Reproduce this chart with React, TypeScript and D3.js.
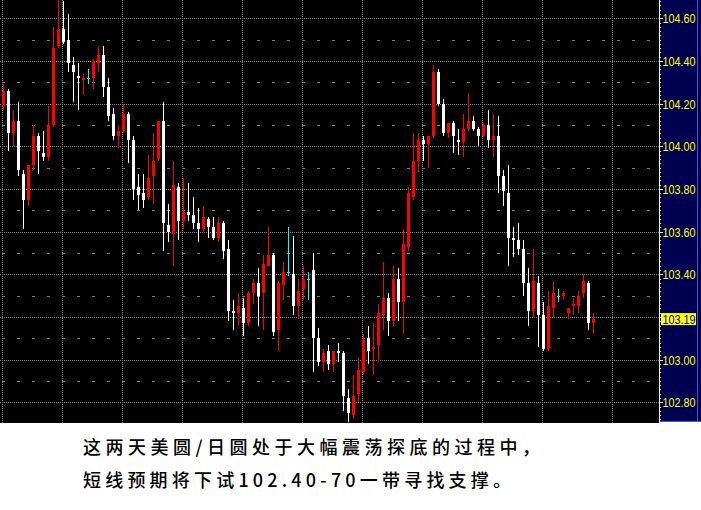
import React from "react";
import * as d3 from "d3";

const opens = [104.19,104.26,104.06,104.12,103.87,103.75,103.91,104.05,103.97,103.95,104.10,104.47,104.55,104.50,104.38,104.33,104.31,104.32,104.32,104.39,104.43,104.28,104.15,104.05,104.07,104.15,104.03,103.81,103.78,103.76,103.86,103.94,104.12,103.63,103.59,103.81,103.65,103.69,103.68,103.64,103.61,103.66,103.62,103.57,103.64,103.52,103.23,103.22,103.24,103.17,103.31,103.36,103.31,103.44,103.49,103.14,103.35,103.41,103.40,103.25,103.33,103.38,103.42,103.10,102.99,103.04,102.98,103.04,103.03,102.82,102.74,102.84,102.94,103.10,103.05,103.07,103.21,103.29,103.18,103.38,103.27,103.53,103.76,103.93,104.03,104.01,104.05,104.35,104.20,104.06,104.11,104.03,104.02,104.08,104.12,104.08,104.05,104.10,104.03,104.05,103.86,103.78,103.57,103.56,103.52,103.36,103.23,103.36,103.21,103.05,103.24,103.30,103.30,103.22,103.25,103.25,103.31,103.36,103.17];
const highs = [104.29,104.27,104.17,104.21,103.89,103.91,104.10,104.06,104.07,104.19,104.56,104.70,104.68,104.62,104.42,104.39,104.34,104.36,104.41,104.47,104.47,104.32,104.18,104.10,104.20,104.16,104.05,103.87,103.87,103.96,104.06,104.12,104.21,103.73,103.93,103.83,103.85,103.83,103.76,103.71,103.72,103.67,103.67,103.67,103.65,103.56,103.28,103.31,103.29,103.32,103.38,103.43,103.49,103.62,103.50,103.37,103.46,103.62,103.58,103.38,103.44,103.41,103.50,103.15,103.05,103.07,103.04,103.08,103.04,102.86,102.93,103.01,103.12,103.16,103.17,103.26,103.46,103.31,103.44,103.43,103.61,103.81,104.06,104.06,104.05,104.05,104.38,104.36,104.22,104.11,104.12,104.08,104.15,104.25,104.14,104.09,104.11,104.17,104.15,104.14,103.89,103.91,103.62,103.64,103.56,103.43,103.52,103.39,103.27,103.32,103.37,103.33,103.32,103.24,103.29,103.32,103.40,103.37,103.22];
const lows = [104.17,103.98,104.00,103.86,103.61,103.72,103.89,103.87,103.93,103.93,104.09,104.46,104.48,104.35,104.21,104.17,104.24,104.29,104.27,104.35,104.23,104.12,104.03,103.99,104.06,103.92,103.75,103.70,103.71,103.75,103.73,103.93,103.51,103.55,103.44,103.56,103.61,103.65,103.61,103.55,103.60,103.57,103.56,103.55,103.47,103.18,103.14,103.16,103.11,103.16,103.26,103.16,103.14,103.44,103.11,103.04,103.28,103.39,103.21,103.19,103.28,103.28,102.94,102.97,102.94,102.95,102.94,102.99,102.76,102.71,102.72,102.80,102.93,102.98,102.93,102.99,103.14,103.11,103.16,103.18,103.12,103.51,103.75,103.88,103.93,103.90,104.04,104.19,104.05,104.04,103.97,103.96,103.95,104.07,104.07,104.00,104.04,103.99,103.95,103.78,103.72,103.44,103.48,103.49,103.30,103.16,103.20,103.06,103.04,103.04,103.20,103.27,103.28,103.19,103.21,103.22,103.29,103.14,103.12];
const closes = [104.26,104.06,104.12,103.89,103.75,103.91,104.05,103.98,103.95,104.10,104.46,104.55,104.49,104.39,104.35,104.32,104.32,104.32,104.40,104.43,104.28,104.14,104.05,104.07,104.15,104.03,103.80,103.77,103.75,103.85,103.93,104.12,103.64,103.60,103.82,103.65,103.69,103.68,103.64,103.61,103.67,103.62,103.57,103.64,103.51,103.23,103.22,103.25,103.17,103.31,103.36,103.30,103.45,103.49,103.13,103.36,103.41,103.41,103.25,103.32,103.38,103.38,103.10,102.99,103.03,102.98,103.04,103.03,102.83,102.75,102.83,102.95,103.09,103.04,103.06,103.22,103.29,103.18,103.38,103.27,103.54,103.78,103.93,104.03,104.01,104.05,104.35,104.20,104.06,104.11,104.05,104.02,104.08,104.12,104.08,104.05,104.10,104.03,104.05,103.86,103.79,103.57,103.56,103.52,103.36,103.23,103.37,103.21,103.05,103.25,103.31,103.30,103.31,103.24,103.26,103.30,103.37,103.17,103.19];

const tickValues = [102.8, 103.0, 103.2, 103.4, 103.6, 103.8, 104.0, 104.2, 104.4, 104.6];
const minorValues = [102.9, 103.1, 103.3, 103.5, 103.7, 103.9, 104.1, 104.3, 104.5];
const sessionStarts = [0, 12, 24, 36, 48, 60, 72, 84, 96, 108, 122];
const lastPrice = 103.19;
const captionLine1 = "这两天美圆/日圆处于大幅震荡探底的过程中，";
const captionLine2 = "短线预期将下试102.40-70一带寻找支撑。";

const W = 701;
const H = 510;
const plotRight = 659;
const plotBottom = 423;

export default function App() {
  const n = opens.length;
  const x = d3.scaleLinear().domain([0, n - 1]).range([3.5, 3.5 + 5 * (n - 1)]);
  const y = d3.scaleLinear().domain([102.8, 104.6]).range([402.3, 18.3]);
  const fineTicks = d3.range(102.7, 104.81, 0.02);
  const fmt = d3.format(".2f");
  const labelTicks = tickValues.filter((t) => Math.abs(t - lastPrice) > 0.05);

  const candles = opens.map((o, i) => {
    const c = closes[i];
    const color = c > o ? "#ff0000" : c < o ? "#ffffff" : "#00ffff";
    const top = Math.round(y(Math.max(o, c)));
    const bot = Math.round(y(Math.min(o, c)));
    const wTop = Math.round(y(highs[i]));
    const wBot = Math.round(y(lows[i]));
    const cx = x(i);
    return (
      <g key={i} fill={color}>
        <rect x={cx - 0.5} y={wTop} width={1} height={Math.max(1, wBot - wTop)} />
        <rect x={cx - 1.5} y={top} width={3} height={Math.max(1, bot - top)} />
      </g>
    );
  });

  return (
    <svg width={W} height={H} style={{ position: "absolute", left: 0, top: 0, background: "#ffffff" }}>
      <rect x={0} y={0} width={plotRight} height={plotBottom} fill="#000000" />
      {sessionStarts.map((s) => (
        <line key={"v" + s} x1={x(s) - 1} x2={x(s) - 1} y1={0} y2={plotBottom} stroke="#808080" strokeDasharray="1,1" />
      ))}
      {tickValues.map((t) => (
        <line key={"h" + t} x1={0} x2={plotRight} y1={Math.round(y(t)) + 0.5} y2={Math.round(y(t)) + 0.5} stroke="#808080" strokeDasharray="1,1" />
      ))}
      {minorValues.map((t) => (
        <line key={"m" + t} x1={2} x2={plotRight} y1={Math.round(y(t)) + 0.5} y2={Math.round(y(t)) + 0.5} stroke="#7a7a7a" strokeDasharray="3,12" />
      ))}
      {candles}
      <rect x={plotRight} y={0} width={W - plotRight} height={plotBottom - 1} fill="#000050" />
      <line x1={697.5} x2={697.5} y1={0} y2={plotBottom - 1} stroke="#3a5ad8" />
      <line x1={plotRight} x2={W} y1={plotBottom - 1.5} y2={plotBottom - 1.5} stroke="#3a5ad8" />
      <line x1={plotRight + 0.5} x2={plotRight + 0.5} y1={0} y2={plotBottom - 1} stroke="#ffff60" />
      {fineTicks.map((t, i) => (
        <line key={"f" + i} x1={plotRight} x2={plotRight + 2} y1={Math.round(y(t)) + 0.5} y2={Math.round(y(t)) + 0.5} stroke="#ffff60" />
      ))}
      {tickValues.map((t) => (
        <line key={"tk" + t} x1={plotRight} x2={plotRight + 4} y1={Math.round(y(t)) + 0.5} y2={Math.round(y(t)) + 0.5} stroke="#ffff60" />
      ))}
      {labelTicks.map((t) => (
        <text key={"t" + t} x={662.5} y={y(t) + 5} fill="#ffff00" fontFamily="Liberation Sans, Arial, sans-serif" fontSize={13} textLength={33} lengthAdjust="spacingAndGlyphs">
          {fmt(t)}
        </text>
      ))}
      <rect x={661} y={y(lastPrice) - 6} width={35} height={12} fill="#ffff00" />
      <text x={662.5} y={y(lastPrice) + 5} fill="#0000c0" fontFamily="Liberation Sans, Arial, sans-serif" fontSize={13} textLength={33} lengthAdjust="spacingAndGlyphs">
        {fmt(lastPrice)}
      </text>
      <text x={83} y={453.5} fill="#000000" fontFamily="Noto Sans CJK SC" fontWeight={500} fontSize={18} textLength={457} lengthAdjust="spacing">
        {captionLine1}
      </text>
      <text x={83} y={487} fill="#000000" fontFamily="Noto Sans CJK SC" fontWeight={500} fontSize={18} textLength={428} lengthAdjust="spacing">
        {captionLine2}
      </text>
    </svg>
  );
}
